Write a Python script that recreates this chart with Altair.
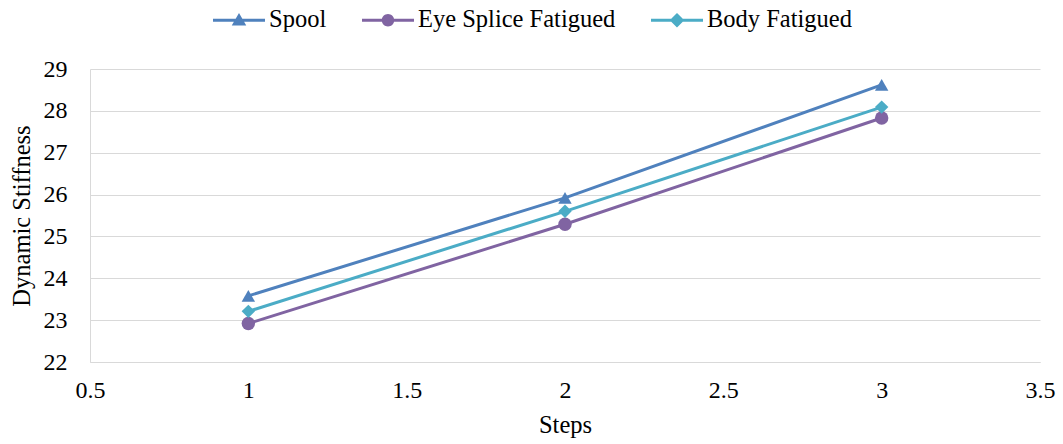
import altair as alt
import pandas as pd

series = ["Spool", "Eye Splice Fatigued", "Body Fatigued"]
colors = ["#4F81BD", "#8064A2", "#4BACC6"]
shapes = ["triangle-up", "circle", "diamond"]
steps = [1, 2, 3]
spool = [23.58, 25.92, 28.62]
eye_splice = [22.92, 25.29, 27.83]
body = [23.21, 25.60, 28.09]

rows = []
for name, vals in zip(series, [spool, eye_splice, body]):
    for s, v in zip(steps, vals):
        rows.append({"Series": name, "Steps": s, "Value": v})
df = pd.DataFrame(rows)

# legend symbols: short line with the marker in the middle
h = 0.06
bar = f"M-1,-{h}H1V{h}H-1Z "
legend_paths = [
    bar + "M0,-0.28L0.28,0.2L-0.28,0.2Z",
    bar + "M0.24,0A0.24,0.24 0 1,1 -0.24,0A0.24,0.24 0 1,1 0.24,0Z",
    bar + "M0,-0.28L0.28,0L0,0.28L-0.28,0Z",
]

FONT = "Liberation Serif"
FS_TICK = 24
FS_TEXT = 24.5

x_enc = alt.X("Steps:Q",
              scale=alt.Scale(domain=[0.5, 3.5], nice=False, zero=False),
              axis=alt.Axis(title="Steps", values=[0.5, 1, 1.5, 2, 2.5, 3, 3.5],
                            format="~g", grid=False, ticks=False, domain=True,
                            labelFlush=False, labelOverlap=False,
                            domainColor="#d9d9d9", labelPadding=16, titlePadding=11))
y_enc = alt.Y("Value:Q",
              scale=alt.Scale(domain=[22, 29], nice=False, zero=False),
              axis=alt.Axis(title="Dynamic Stiffness", values=list(range(22, 30)),
                            grid=True, gridColor="#d9d9d9", ticks=False, domain=True,
                            labelFlush=False, labelOverlap=False,
                            domainColor="#d9d9d9", labelPadding=23, titlePadding=9))
color_nolegend = alt.Color("Series:N", scale=alt.Scale(domain=series, range=colors), legend=None)

lines = alt.Chart(df).mark_line(strokeWidth=3).encode(
    x=x_enc, y=y_enc, color=color_nolegend, detail="Series:N")

points = alt.Chart(df).mark_point(filled=True, opacity=1, size=180).encode(
    x="Steps:Q", y="Value:Q", color=color_nolegend,
    shape=alt.Shape("Series:N", scale=alt.Scale(domain=series, range=shapes), legend=None))

legend_layer = alt.Chart(df).transform_filter("false").mark_point(
    filled=True, opacity=1, size=2704, strokeWidth=0).encode(
    x="Steps:Q", y="Value:Q",
    color=alt.Color("Series:N", scale=alt.Scale(domain=series, range=colors),
                    legend=alt.Legend(title=None, orient="none", direction="horizontal",
                                      legendX=123, legendY=-75,
                                      symbolSize=2704, symbolStrokeWidth=0,
                                      labelFont=FONT, labelFontSize=FS_TEXT, labelColor="#000000",
                                      labelLimit=400,
                                      labelOffset=4, columnPadding=35, symbolOpacity=1)),
    shape=alt.Shape("Series:N", scale=alt.Scale(domain=series, range=legend_paths)))

chart = alt.layer(lines, points, legend_layer).resolve_scale(
    color="independent", shape="independent"
).properties(
    width=950, height=293,
    background="white",
    autosize=alt.AutoSizeParams(type="none"),
    padding={"left": 90, "top": 69, "right": 23, "bottom": 82},
).configure(font=FONT).configure_view(stroke=None).configure_axis(
    labelFont=FONT, labelFontSize=FS_TICK, labelColor="#000000",
    titleFont=FONT, titleFontSize=FS_TEXT, titleColor="#000000", titleFontWeight="normal",
).configure_legend(
    labelFont=FONT, labelFontSize=FS_TEXT, labelColor="#000000", labelLimit=400,
)

chart.save("out.html", embed_options={"renderer": "svg", "actions": False})
